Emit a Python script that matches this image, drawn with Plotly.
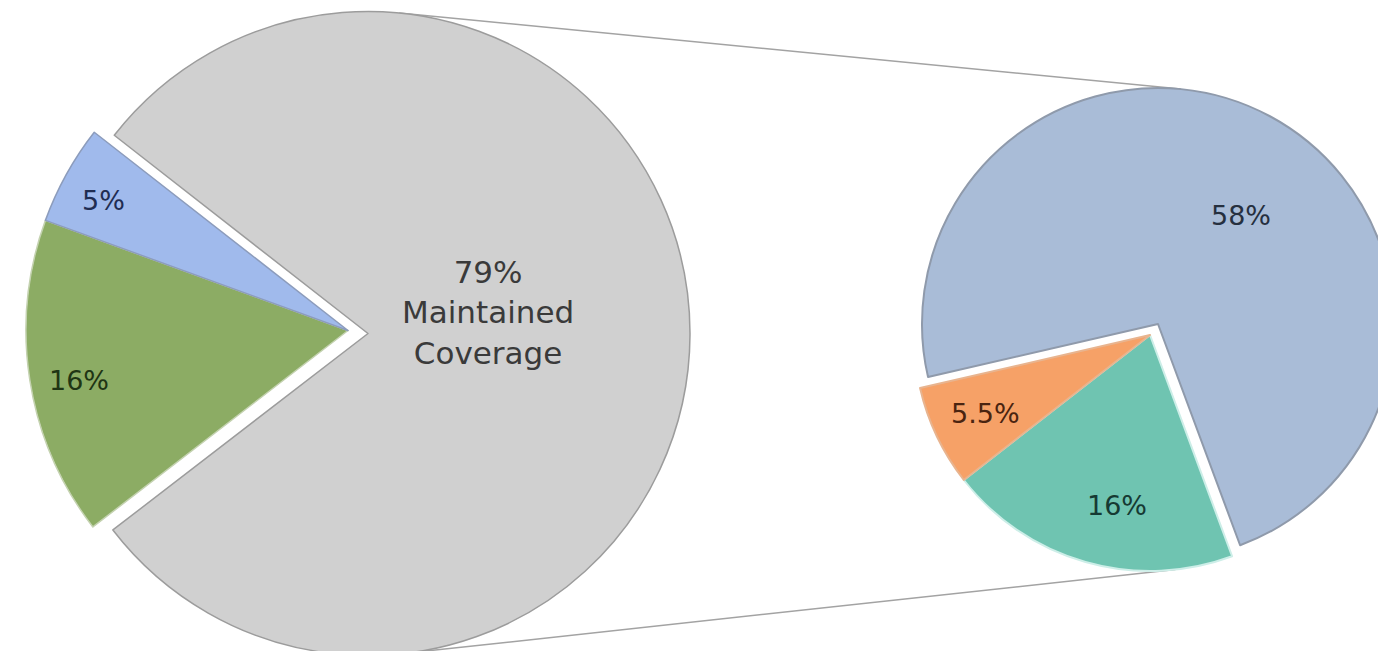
import math
import plotly.graph_objects as go

W, H = 1386, 651

# ---------------- data ----------------
main_labels = ["Maintained Coverage", "Category B", "Category A"]
main_values = [79, 16, 5]
detail_labels = ["Segment 1", "Segment 2", "Segment 3"]
detail_values = [58, 16, 5.5]

# ---------------- styling / geometry (pixels) ----------------
main_colors = ["#d0d0d0", "#8cac64", "#a0baec"]
main_line_colors = ["#9c9c9c", "#c4d2b0", "#8c9cbc"]
main_text_colors = ["#3a3a3a", "#1f3514", "#1f2d52"]
detail_colors = ["#a9bcd7", "#6fc4b1", "#f6a167"]
detail_line_colors = ["#8f9aab", "#cdeee8", "#e8b48f"]
detail_text_colors = ["#26303f", "#163a33", "#4a2410"]

main_rotation = -52
main_center = (352, 325.5)
main_radius = 322
main_shift = [(8, 0), (-12, -3), (-12, -3)]      # explode vectors (px)

detail_rotation = -103
detail_center = (1148, 320)
detail_radius = 236
detail_shift = [(2, -4), (-6, 7), (-6, 7)]

FONT = "'DejaVu Sans', sans-serif"

# label centres (pixels) and sizes
main_label_pos = [(480, 305), (71, 372), (95, 193)]
main_label_size = [31, 27, 27]
detail_label_pos = [(1233, 207), (1109, 497), (977, 405)]
detail_label_size = [27, 27, 27]


def pie_traces(values, labels, colors, line_colors, rotation, center, radius, shifts, lw):
    n = len(values)
    traces = []
    for i, (sx, sy) in enumerate(shifts):
        cx, cy = center[0] + sx, center[1] + sy
        x0 = max(0.0, (cx - radius) / W)
        x1 = min(1.0, (cx + radius) / W)
        y0 = max(0.0, 1 - (cy + radius) / H)
        y1 = min(1.0, 1 - (cy - radius) / H)
        cols = [colors[j] if j == i else "rgba(0,0,0,0)" for j in range(n)]
        lcols = [line_colors[j] if j == i else "rgba(0,0,0,0)" for j in range(n)]
        lws = [lw if j == i else 0 for j in range(n)]
        traces.append(go.Pie(
            values=values, labels=labels, sort=False, direction="clockwise",
            rotation=rotation, domain=dict(x=[x0, x1], y=[y0, y1]),
            marker=dict(colors=cols, line=dict(color=lcols, width=lws)),
            textinfo="none", hoverinfo="label+value", showlegend=False,
        ))
    return traces


def ext_tangent(c1, r1, c2, r2, upper):
    dx, dy = c2[0] - c1[0], c2[1] - c1[1]
    D = math.hypot(dx, dy)
    phi = math.atan2(dy, dx)
    best = None
    for s in (1, -1):
        th = phi + s * math.acos((r1 - r2) / D)
        nx, ny = math.cos(th), math.sin(th)
        if (ny < 0) == upper:
            best = (nx, ny)
    nx, ny = best
    return (c1[0] + r1 * nx, c1[1] + r1 * ny), (c2[0] + r2 * nx, c2[1] + r2 * ny)


fig = go.Figure()
for t in pie_traces(main_values, main_labels, main_colors, main_line_colors,
                    main_rotation, main_center, main_radius, main_shift, 1.5):
    fig.add_trace(t)
for t in pie_traces(detail_values, detail_labels, detail_colors, detail_line_colors,
                    detail_rotation, detail_center, detail_radius, detail_shift, 2):
    fig.add_trace(t)

# connector lines (common external tangents of the two pies)
mc = [(main_center[0] + sx, main_center[1] + sy) for sx, sy in main_shift]
dc = [(detail_center[0] + sx, detail_center[1] + sy) for sx, sy in detail_shift]
top = ext_tangent(mc[0], main_radius, dc[0], detail_radius, True)
bot = ext_tangent(mc[0], main_radius, dc[1], detail_radius, False)
shapes = []
for (p, q) in (top, bot):
    shapes.append(dict(type="line", xref="paper", yref="paper", layer="below",
                       x0=p[0] / W, y0=1 - p[1] / H, x1=q[0] / W, y1=1 - q[1] / H,
                       line=dict(color="#a3a3a3", width=1.5)))

annotations = []
for i, v in enumerate(main_values):
    txt = f"{v}%"
    if i == 0:
        txt += "<br>" + main_labels[0].replace(" ", "<br>")
    px, py = main_label_pos[i]
    annotations.append(dict(x=px / W, y=1 - py / H, xref="paper", yref="paper",
                            text=txt, showarrow=False, xanchor="center", yanchor="middle",
                            font=dict(family=FONT, size=main_label_size[i], color=main_text_colors[i])))
for i, v in enumerate(detail_values):
    px, py = detail_label_pos[i]
    annotations.append(dict(x=px / W, y=1 - py / H, xref="paper", yref="paper",
                            text=f"{v:g}%", showarrow=False, xanchor="center", yanchor="middle",
                            font=dict(family=FONT, size=detail_label_size[i], color=detail_text_colors[i])))

fig.update_layout(width=W, height=H, margin=dict(l=0, r=0, t=0, b=0),
                  paper_bgcolor="white", plot_bgcolor="white",
                  showlegend=False, shapes=shapes, annotations=annotations)

fig.write_html("out.html")
